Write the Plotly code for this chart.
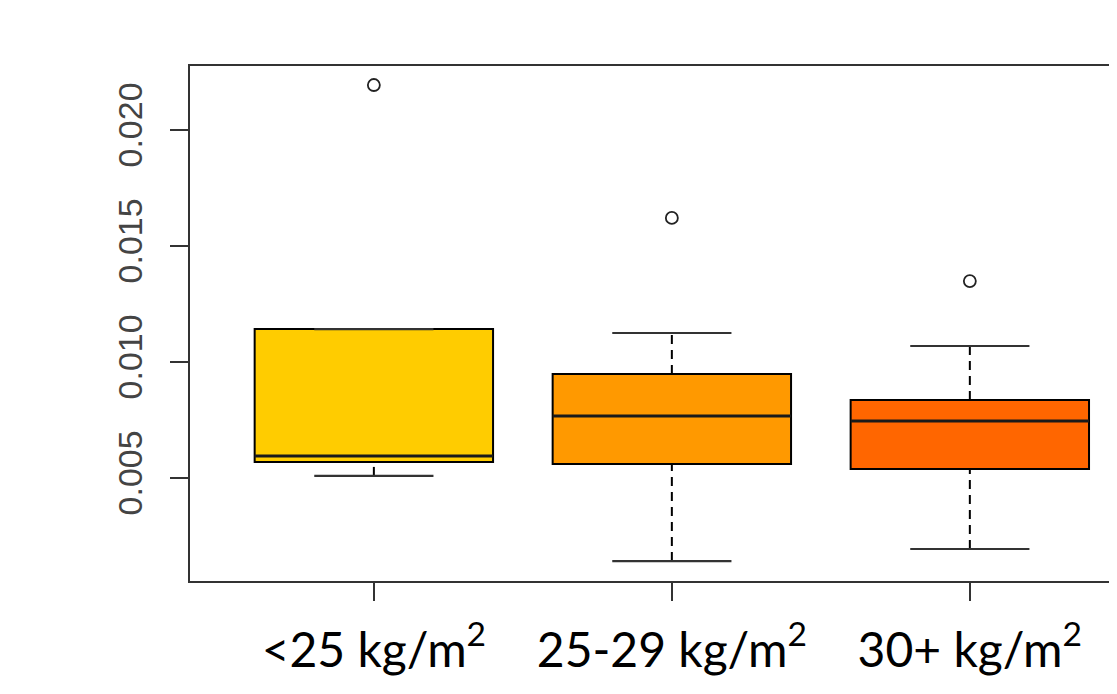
import plotly.graph_objects as go

# ---- data ----
categories = ["<25 kg/m<sup>2</sup>", "25-29 kg/m<sup>2</sup>", "30+ kg/m<sup>2</sup>"]
positions = [1, 2, 3]
colors = ["#FFCC00", "#FF9900", "#FF6600"]
lower_whisker = [0.00509, 0.00142, 0.00194]
q1 = [0.00569, 0.00560, 0.00539]
median = [0.00595, 0.00767, 0.00746]
q3 = [0.01142, 0.00948, 0.00836]
upper_whisker = [0.01142, 0.01125, 0.01069]
outliers = [0.02194, 0.01621, 0.01349]
y_ticks = [0.005, 0.010, 0.015, 0.020]
y_tick_labels = ["0.005", "0.010", "0.015", "0.020"]

BOX_W = 0.8
CAP_W = 0.4

fig = go.Figure()

for i, p in enumerate(positions):
    # dashed whiskers
    fig.add_trace(go.Scatter(
        x=[p, p, None, p, p],
        y=[lower_whisker[i], q1[i], None, q3[i], upper_whisker[i]],
        mode="lines", line=dict(color="black", width=2, dash="9px,6px"),
        hoverinfo="skip", showlegend=False))
    # whisker caps
    fig.add_trace(go.Scatter(
        x=[p - CAP_W / 2, p + CAP_W / 2, None, p - CAP_W / 2, p + CAP_W / 2],
        y=[lower_whisker[i], lower_whisker[i], None, upper_whisker[i], upper_whisker[i]],
        mode="lines", line=dict(color="#333333", width=2.2),
        hoverinfo="skip", showlegend=False))
    # box
    fig.add_trace(go.Box(
        x=[p], q1=[q1[i]], median=[median[i]], q3=[q3[i]],
        lowerfence=[q1[i]], upperfence=[q3[i]],
        width=BOX_W, fillcolor=colors[i],
        line=dict(color="black", width=2),
        boxpoints=False, showlegend=False, hoverinfo="skip"))
    # thick median line
    fig.add_trace(go.Scatter(
        x=[p - BOX_W / 2, p + BOX_W / 2], y=[median[i], median[i]],
        mode="lines", line=dict(color="#1a1a1a", width=3),
        hoverinfo="skip", showlegend=False))

# outliers
fig.add_trace(go.Scatter(
    x=positions, y=outliers, mode="markers",
    marker=dict(symbol="circle-open", size=12, color="#222222", line=dict(width=1.8)),
    showlegend=False))

fig.update_layout(
    width=1101, height=678,
    margin=dict(l=182, r=0, t=58, b=105),
    paper_bgcolor="white", plot_bgcolor="white",
    showlegend=False,
    xaxis=dict(
        range=[0.383, 3.467], tickvals=positions, ticktext=categories,
        showgrid=False, zeroline=False,
        showline=True, mirror=True, linecolor="#333333", linewidth=2,
        ticks="outside", ticklen=18, tickwidth=2, tickcolor="#333333",
        ticklabelstandoff=8,
        tickfont=dict(family="Lato, Liberation Sans, sans-serif", size=48, color="black")),
    yaxis=dict(
        range=[0.00056, 0.02276], tickvals=y_ticks, ticktext=y_tick_labels,
        showgrid=False, zeroline=False,
        showline=True, mirror=False, linecolor="#333333", linewidth=2,
        ticks="outside", ticklen=18, tickwidth=2, tickcolor="#333333",
        tickangle=-90, ticklabelstandoff=14,
        tickfont=dict(family="Liberation Sans, Arial, sans-serif", size=34, color="#444444")),
)

fig.write_html("out.html")
